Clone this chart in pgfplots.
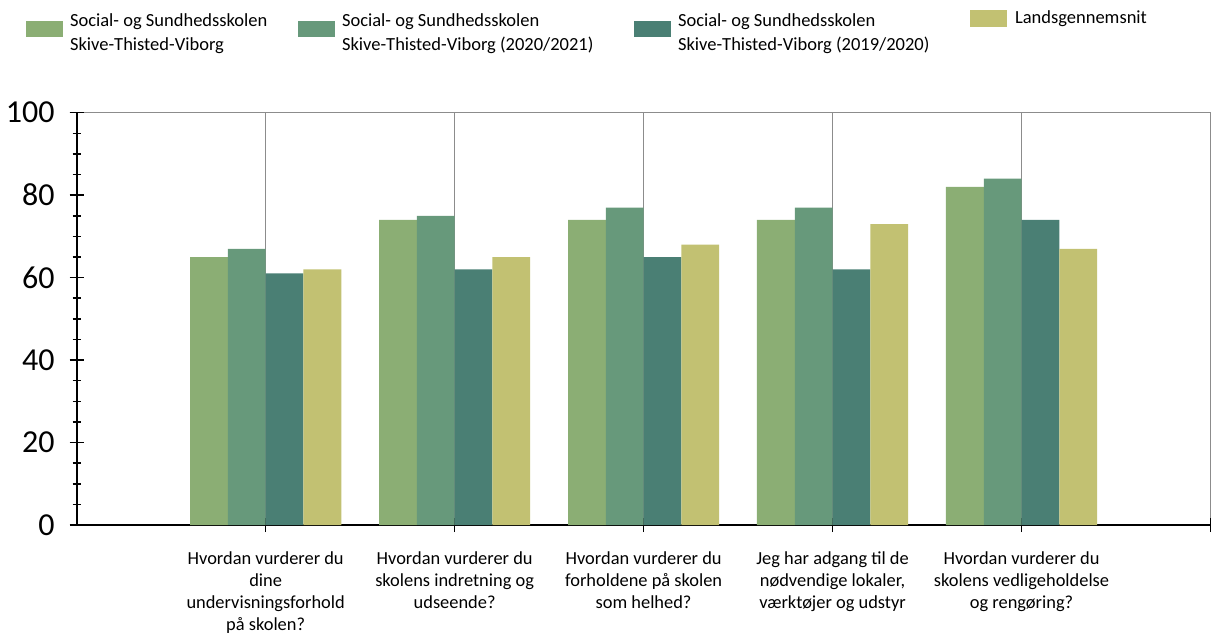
\documentclass[border=0pt]{standalone}
\usepackage{fontspec}
\setmainfont{Carlito}
\usepackage{pgfplots}
\pgfplotsset{compat=1.18}
\usetikzlibrary{calc}
\definecolor{cA}{HTML}{8BAE74}
\definecolor{cB}{HTML}{67997B}
\definecolor{cC}{HTML}{4A7F74}
\definecolor{cD}{HTML}{C2C172}
\definecolor{gridc}{HTML}{8C8C8C}
\begin{document}
\begin{tikzpicture}
\begin{axis}[
  scale only axis, width=1133.8pt, height=412.3pt,
  xmin=0, xmax=6, ymin=0, ymax=100,
  axis x line*=bottom, axis y line*=left,
  axis line style={black, line width=2pt},
  ybar=0pt, bar width=0.2,
  xtick={1,2,3,4,5,6},
  xticklabels={{Hvordan vurderer du\\dine\\undervisningsforhold\\på skolen?},
               {Hvordan vurderer du\\skolens indretning og\\udseende?},
               {Hvordan vurderer du\\forholdene på skolen\\som helhed?},
               {Jeg har adgang til de\\nødvendige lokaler,\\værktøjer og udstyr},
               {Hvordan vurderer du\\skolens vedligeholdelse\\og rengøring?},
               {}},
  ytick={0,20,...,100},
  minor y tick num=3,
  tick align=center,
  major tick length=14pt, minor tick length=8pt,
  tick style={black, line width=1.5pt},
  xmajorgrids, major grid style={gridc, line width=1.3pt},
  extra y ticks={100}, extra y tick labels={}, extra y tick style={grid=major},
  /pgf/number format/assume math mode=true,
  yticklabel style={font=\fontsize{32}{38}\selectfont, inner sep=0pt, xshift=-15pt},
  xticklabel style={font=\fontsize{18.4}{21.7}\selectfont, align=center, inner sep=0pt, yshift=-20pt},
  legend columns=4,
  legend style={draw=none, fill=none, inner sep=0pt, outer sep=0pt, column sep=0pt,
    at={(-0.0447,1.2491)}, anchor=north west,
    font=\fontsize{18.5}{24}\selectfont,
    cells={anchor=base west}, nodes={inner sep=0pt, outer sep=0pt}},
]
\addplot[fill=cA, draw=none, legend image code/.code={\fill[cA] (0pt,-10.3pt) rectangle (37pt,5.7pt); \path (44pt,0pt);}]
  coordinates {(1,65) (2,74) (3,74) (4,74) (5,82)};
\addlegendentry{\parbox[t]{228pt}{\raggedright Social- og Sundhedsskolen\\Skive-Thisted-Viborg}}
\addplot[fill=cB, draw=none, legend image code/.code={\fill[cB] (0pt,-10.3pt) rectangle (37pt,5.7pt); \path (44pt,0pt);}]
  coordinates {(1,67) (2,75) (3,77) (4,77) (5,84)};
\addlegendentry{\parbox[t]{292pt}{\raggedright Social- og Sundhedsskolen\\Skive-Thisted-Viborg (2020/2021)}}
\addplot[fill=cC, draw=none, legend image code/.code={\fill[cC] (0pt,-10.3pt) rectangle (37pt,5.7pt); \path (44pt,0pt);}]
  coordinates {(1,61) (2,62) (3,65) (4,62) (5,74)};
\addlegendentry{\parbox[t]{292pt}{\raggedright Social- og Sundhedsskolen\\Skive-Thisted-Viborg (2019/2020)}}
\addplot[fill=cD, draw=none, legend image code/.code={\fill[cD] (0pt,-0.6pt) rectangle (37pt,16.7pt); \path (45pt,0pt);}]
  coordinates {(1,62) (2,65) (3,68) (4,73) (5,67)};
\addlegendentry{\raisebox{2.7pt}{Landsgennemsnit}}
\end{axis}
\pgfresetboundingbox
\path ($(current axis.south west)+(-76.7pt,-111pt)$) rectangle ($(current axis.north east)+(3.5pt,112.7pt)$);
\end{tikzpicture}
\end{document}
